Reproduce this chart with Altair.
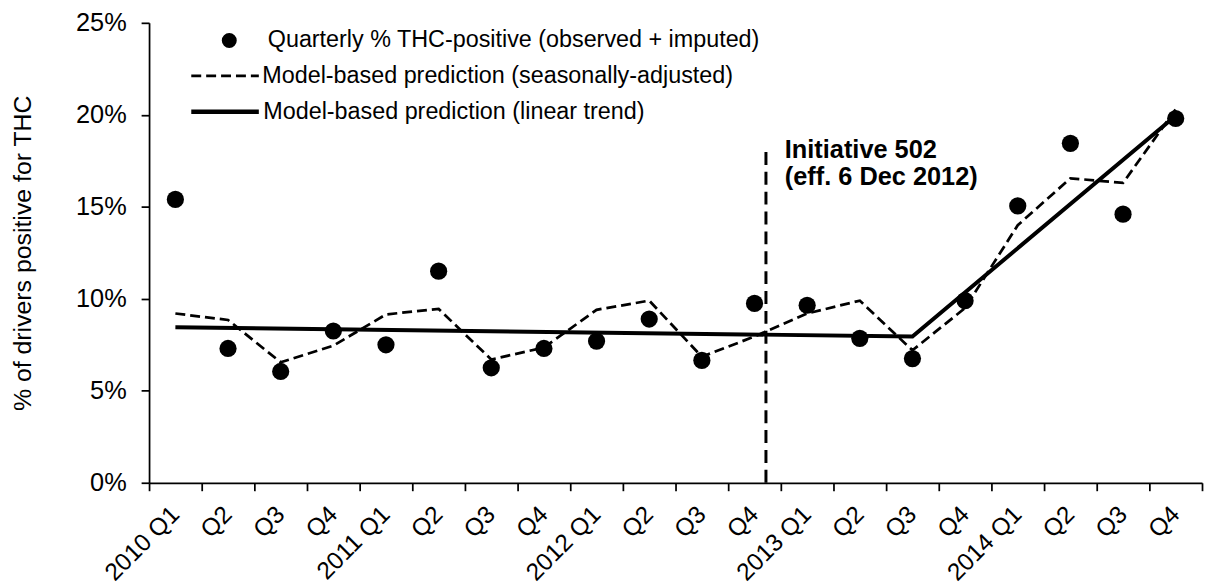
import json
import pandas as pd
import altair as alt

# ---------------- data ----------------
quarters = ["2010 Q1", "Q2", "Q3", "Q4",
            "2011 Q1", "Q2", "Q3", "Q4",
            "2012 Q1", "Q2", "Q3", "Q4",
            "2013 Q1", "Q2", "Q3", "Q4",
            "2014 Q1", "Q2", "Q3", "Q4"]
observed = [15.4, 7.3, 6.05, 8.25, 7.5, 11.5, 6.25, 7.3, 7.7, 8.9,
            6.65, 9.75, 9.65, 7.85, 6.75, 9.9, 15.05, 18.45, 14.6, 19.8]
seasonal = [9.2, 8.85, 6.55, 7.45, 9.15, 9.45, 6.7, 7.35, 9.4, 9.9,
            6.85, 7.95, 9.2, 9.9, 7.2, 9.5, 14.0, 16.55, 16.3, 20.3]
trend_index = [0, 14, 19]          # 2010 Q1, 2013 Q3, 2014 Q4 (trend vertices)
trend_values = [8.45, 7.95, 19.95]

legend_labels = ["Quarterly % THC-positive (observed + imputed)",
                 "Model-based prediction (seasonally-adjusted)",
                 "Model-based prediction (linear trend)"]
event_date = "2012-12-06"
event_text = "Initiative 502\n(eff. 6 Dec 2012)"
event_top = 18.3
y_ticks = [0, 5, 10, 15, 20, 25]
y_title = "% of drivers  positive for THC"

# ---------------- layout ----------------
W, H = 1060, 463
FONT = "Liberation Sans"
n = len(quarters)

# position on a continuous quarter axis (category centres at i + 0.5)
df = pd.DataFrame({
    "pos": [i + 0.5 for i in range(n)],
    "observed": observed,
    "seasonal": seasonal,
    "pts": legend_labels[0],
    "dash": legend_labels[1],
})
trend_df = pd.DataFrame({
    "pos": [i + 0.5 for i in trend_index],
    "trend": trend_values,
    "solid": legend_labels[2],
})
d = pd.Timestamp(event_date)
q_start = d.to_period("Q").start_time
q_end = (d.to_period("Q") + 1).start_time
event_pos = (d.year - 2010) * 4 + (d.quarter - 1) + (d - q_start) / (q_end - q_start)
event_df = pd.DataFrame({"pos": [event_pos], "y0": [0], "y1": [event_top], "label": [event_text]})

x_scale = alt.Scale(domain=[0, n], nice=False, zero=False)
y_scale = alt.Scale(domain=[0, 25], nice=False)

x_axis = alt.Axis(
    values=list(range(n + 1)),
    labelExpr=f"({json.dumps(quarters)})[datum.value] || ''",
    labelAngle=-45, labelAlign="right", labelBaseline="middle",
    labelOffset=W / (2 * n), labelPadding=20, labelOverlap=False, labelFlush=False,
    labelFontSize=24.5, tickSize=8, grid=False, title=None,
)
y_axis = alt.Axis(
    values=y_ticks, labelExpr="datum.value + '%'", labelFontSize=25.5,
    tickSize=8, labelPadding=15, grid=False,
    title=y_title, titlePadding=40, titleFontWeight="normal",
)

X = alt.X("pos:Q", scale=x_scale, axis=x_axis)

points = alt.Chart(df).mark_point(filled=True, size=300, color="black", opacity=1).encode(
    x=X,
    y=alt.Y("observed:Q", scale=y_scale, axis=y_axis),
    shape=alt.Shape("pts:N", scale=alt.Scale(range=["circle"]),
                    legend=alt.Legend(title=None, orient="none", legendX=69, legendY=6,
                                      symbolSize=227, symbolFillColor="black",
                                      symbolStrokeColor="black", symbolStrokeWidth=0,
                                      labelOffset=27)),
)

dashed = alt.Chart(df).mark_line(color="black", strokeWidth=2.75).encode(
    x=X,
    y=alt.Y("seasonal:Q", scale=y_scale),
    strokeDash=alt.StrokeDash("dash:N", scale=alt.Scale(range=[[10, 5]]),
                              legend=alt.Legend(title=None, orient="none", legendX=41, legendY=18,
                                                symbolType="stroke", symbolSize=4624,
                                                symbolStrokeWidth=2.75, symbolStrokeColor="black",
                                                labelOffset=2)),
)

solid = alt.Chart(trend_df).mark_line(strokeWidth=4).encode(
    x=X,
    y=alt.Y("trend:Q", scale=y_scale),
    color=alt.Color("solid:N", scale=alt.Scale(range=["black"]),
                    legend=alt.Legend(title=None, orient="none", legendX=40, legendY=53,
                                      symbolType="stroke", symbolSize=4624,
                                      symbolStrokeWidth=4.5, symbolStrokeColor="black",
                                      labelOffset=2)),
)

event_line = alt.Chart(event_df).mark_rule(color="black", strokeWidth=3, strokeDash=[13, 7]).encode(
    x=X, y=alt.Y("y0:Q", scale=y_scale), y2="y1:Q",
)
event_label = alt.Chart(event_df).mark_text(
    align="left", baseline="alphabetic", font=FONT, fontSize=25.5, fontWeight="bold",
    lineBreak="\n", lineHeight=27, dx=19, dy=12, color="black",
).encode(x=X, y=alt.Y("y1:Q", scale=y_scale), text="label:N")

chart = alt.layer(event_line, dashed, solid, points, event_label).resolve_legend(
    shape="independent", strokeDash="independent", color="independent"
).properties(
    width=W, height=H,
    autosize=alt.AutoSizeParams(type="none"),
    padding={"left": 142, "top": 13, "right": 2, "bottom": 103},
).configure_view(stroke=None).configure_axis(
    labelFont=FONT, titleFont=FONT, titleFontSize=25,
    labelColor="black", titleColor="black",
    domainColor="black", domainWidth=1.75, tickColor="black", tickWidth=1.75,
).configure_legend(
    labelFont=FONT, labelFontSize=23.5, labelColor="black", labelLimit=2000, padding=0,
)

chart.save("out.html", embed_options={"renderer": "svg", "actions": False})
